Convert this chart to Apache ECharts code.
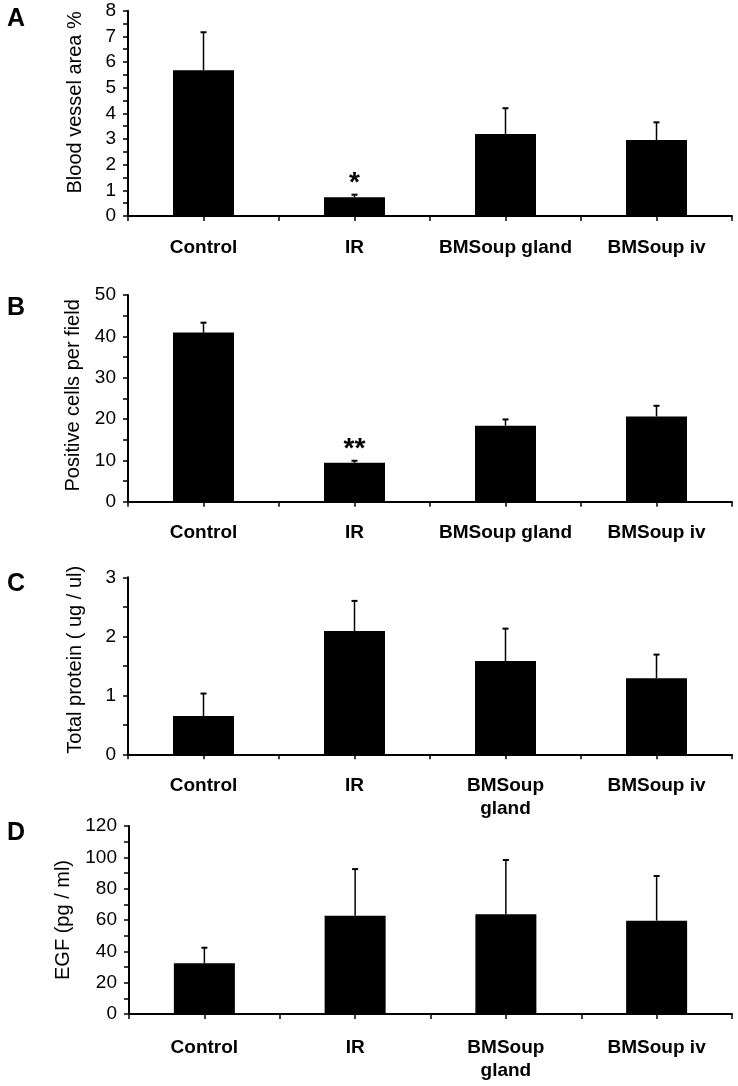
<!DOCTYPE html>
<html>
<head>
<meta charset="utf-8">
<script src="https://cdn.jsdelivr.net/npm/echarts@6/dist/echarts.min.js"></script>
<style>html,body{margin:0;padding:0;background:#fff;}#c{width:738px;height:1086px;}</style>
</head>
<body>
<div id="c"></div>
<script>
// ---- data ----
var categoriesAB = ['Control', 'IR', 'BMSoup gland', 'BMSoup iv'];
var categoriesCD = ['Control', 'IR', 'BMSoup\ngland', 'BMSoup iv'];

var meanA = [5.68, 0.73, 3.20, 2.96];
var errA  = [1.48, 0.10, 1.00, 0.69];
var sigA  = ['', '*', '', ''];

var meanB = [40.9, 9.4, 18.4, 20.6];
var errB  = [2.4, 0.5, 1.5, 2.6];
var sigB  = ['', '**', '', ''];

var meanC = [0.65, 2.09, 1.58, 1.29];
var errC  = [0.38, 0.51, 0.55, 0.40];
var sigC  = ['', '', '', ''];

var meanD = [32.4, 62.7, 63.6, 59.6];
var errD  = [9.9, 29.8, 34.7, 28.5];
var sigD  = ['', '', '', ''];

var yTitles = ['Blood vessel area %', 'Positive cells per field', 'Total protein ( ug / ul)', 'EGF (pg / ml)'];
var yMax = [8, 50, 3, 120];
var yInterval = [1, 10, 1, 20];
var panelLetters = ['A', 'B', 'C', 'D'];

// ---- layout ----
var FONT = 'Arial, "Liberation Sans", sans-serif';
var panels = [
  {cats: categoriesAB, mean: meanA, err: errA, sig: sigA, top: 10.7, height: 205.3, left: 128, nameGap: 43, namePad: [0,0,0,22], letterY: 20, lblMargin: 20},
  {cats: categoriesAB, mean: meanB, err: errB, sig: sigB, top: 295, height: 206.7, left: 128, nameGap: 43, namePad: [0,0,0,6], letterY: 309, lblMargin: 20},
  {cats: categoriesCD, mean: meanC, err: errC, sig: sigC, top: 577.3, height: 177, left: 128, nameGap: 43, namePad: [0,0,0,12], letterY: 585, lblMargin: 20},
  {cats: categoriesCD, mean: meanD, err: errD, sig: sigD, top: 826, height: 188, left: 129, nameGap: 56, namePad: [0,0,0,0], letterY: 834, lblMargin: 22}
];

var grids = [], xAxes = [], yAxes = [], series = [], graphics = [];
panels.forEach(function (p, k) {
  grids.push({left: p.left, right: 6, top: p.top, height: p.height, containLabel: false});
  // boundary ticks + labels
  xAxes.push({
    type: 'category', gridIndex: k, data: p.cats, boundaryGap: true, position: 'bottom',
    axisLine: {show: true, lineStyle: {color: '#000', width: 2}},
    axisTick: {show: true, alignWithLabel: false, length: 5, lineStyle: {color: '#000', width: 1.5}},
    axisLabel: {show: true, interval: 0, color: '#000', fontFamily: FONT, fontWeight: 'bold', fontSize: 19, margin: p.lblMargin, lineHeight: 23},
    splitLine: {show: false}
  });
  // centre ticks
  xAxes.push({
    type: 'category', gridIndex: k, data: p.cats, boundaryGap: true, position: 'bottom',
    axisLine: {show: false},
    axisTick: {show: true, alignWithLabel: true, interval: 0, length: 5, lineStyle: {color: '#000', width: 1.5}},
    axisLabel: {show: false},
    splitLine: {show: false}
  });
  yAxes.push({
    type: 'value', gridIndex: k, min: 0, max: yMax[k], interval: yInterval[k],
    name: yTitles[k], nameLocation: 'middle', nameRotate: 90, nameGap: p.nameGap,
    nameTextStyle: {color: '#000', fontFamily: FONT, fontSize: 20, padding: p.namePad},
    axisLine: {show: true, lineStyle: {color: '#000', width: 2}},
    axisTick: {show: true, inside: false, length: 5, lineStyle: {color: '#000', width: 1.5}},
    minorTick: {show: true, splitNumber: 2, length: 5, lineStyle: {color: '#000', width: 1.5}},
    axisLabel: {color: '#000', fontFamily: FONT, fontSize: 19, margin: 12},
    splitLine: {show: false}
  });
  series.push({
    type: 'bar', xAxisIndex: 2 * k, yAxisIndex: k, data: p.mean,
    barWidth: 61, itemStyle: {color: '#000'}, silent: true, animation: false
  });
  var sig = p.sig;
  series.push({
    type: 'custom', xAxisIndex: 2 * k, yAxisIndex: k, z: 5, animation: false, silent: true,
    data: p.mean.map(function (m, i) { return [i, m, p.err[i]]; }),
    renderItem: function (params, api) {
      var i = api.value(0), m = api.value(1), e = api.value(2);
      var a = api.coord([i, m]), b = api.coord([i, m + e]);
      var ch = [
        {type: 'line', shape: {x1: a[0], y1: a[1], x2: b[0], y2: b[1]}, style: {stroke: '#000', lineWidth: 1.5}},
        {type: 'line', shape: {x1: b[0] - 3, y1: b[1], x2: b[0] + 3, y2: b[1]}, style: {stroke: '#000', lineWidth: 2}}
      ];
      if (sig[i]) {
        ch.push({type: 'text', x: b[0], y: b[1] - 11, style: {text: sig[i], fill: '#000', font: 'bold 28px ' + FONT, textAlign: 'center', textVerticalAlign: 'middle'}});
      }
      return {type: 'group', children: ch};
    }
  });
  graphics.push({type: 'text', left: 7, top: p.letterY - 13, style: {text: panelLetters[k], fill: '#000', font: 'bold 25px ' + FONT}});
});

var chart = echarts.init(document.getElementById('c'), null, {renderer: 'canvas'});
chart.setOption({
  animation: false,
  backgroundColor: '#fff',
  grid: grids,
  xAxis: xAxes,
  yAxis: yAxes,
  series: series,
  graphic: graphics
});
</script>
</body>
</html>
